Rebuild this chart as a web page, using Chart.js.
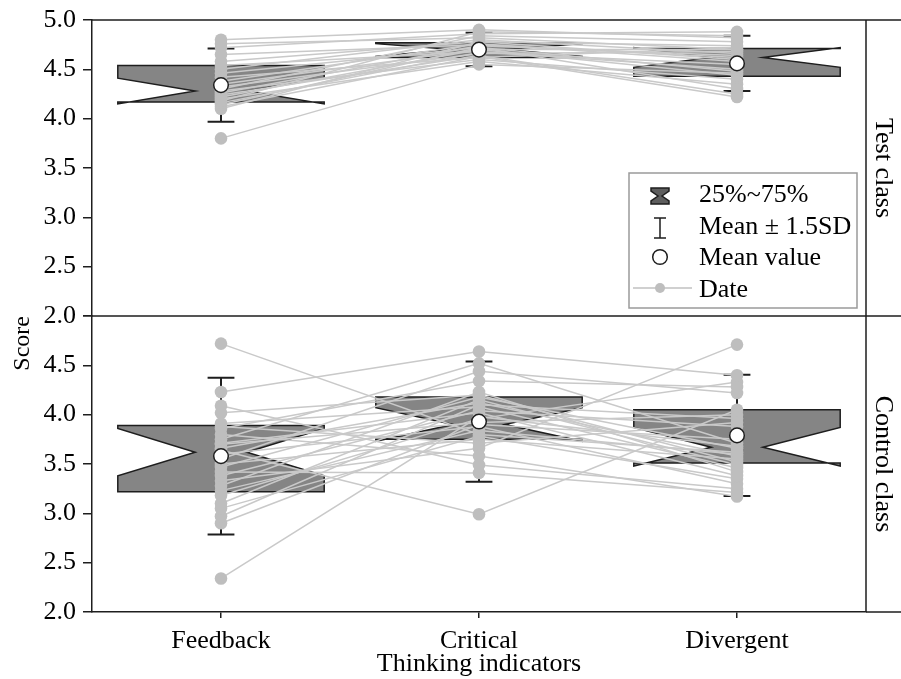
<!DOCTYPE html>
<html>
<head>
<meta charset="utf-8">
<script src="https://cdn.jsdelivr.net/npm/chart.js@4.4.0/dist/chart.umd.min.js"></script>
<style>
  html, body { margin: 0; padding: 0; background: #fff; }
  #wrap { width: 901px; height: 679px; }
</style>
</head>
<body>
<div id="wrap"><canvas id="scoreChart"></canvas></div>
<script>
const categories = ['Feedback', 'Critical', 'Divergent'];
const panelNames = ['Test class', 'Control class'];
const yTicks = [2.0, 2.5, 3.0, 3.5, 4.0, 4.5, 5.0];

// test class, one entry per student
const testFeedback  = [4.80, 4.76, 4.72, 4.65, 4.58, 4.54, 4.50, 4.46, 4.42, 4.38, 4.35, 4.32, 4.30, 4.28, 4.26, 4.24, 4.22, 4.20, 4.18, 4.16, 4.14, 4.12, 4.10, 3.80];
const testCritical  = [4.90, 4.82, 4.86, 4.75, 4.78, 4.68, 4.80, 4.72, 4.62, 4.76, 4.70, 4.66, 4.84, 4.60, 4.74, 4.64, 4.70, 4.58, 4.88, 4.67, 4.72, 4.63, 4.78, 4.55];
const testDivergent = [4.82, 4.70, 4.88, 4.62, 4.74, 4.50, 4.66, 4.30, 4.72, 4.58, 4.44, 4.68, 4.78, 4.40, 4.64, 4.25, 4.70, 4.35, 4.84, 4.55, 4.48, 4.22, 4.60, 4.46];

// control class
const controlFeedback  = [4.72, 4.23, 4.09, 4.02, 3.91, 3.88, 3.86, 3.80, 3.75, 3.71, 3.70, 3.66, 3.64, 3.60, 3.55, 3.50, 3.47, 3.42, 3.38, 3.33, 3.28, 3.23, 3.18, 3.10, 3.05, 2.97, 2.90, 2.34];
const controlCritical  = [3.80, 4.64, 3.49, 4.20, 4.08, 3.71, 4.34, 3.58, 4.52, 4.02, 3.92, 4.12, 2.99, 3.88, 4.44, 3.75, 4.18, 3.41, 4.04, 3.66, 4.23, 3.84, 3.96, 4.15, 3.78, 4.10, 3.90, 3.98];
const controlDivergent = [3.62, 4.40, 3.25, 3.52, 3.46, 3.92, 4.28, 3.17, 3.71, 3.38, 4.00, 3.58, 4.05, 3.30, 4.22, 3.55, 3.66, 3.21, 3.88, 4.71, 3.42, 3.60, 4.33, 3.49, 3.35, 3.96, 3.75, 3.68];

// box statistics (Feedback, Critical, Divergent)
const testQ1       = [4.17, 4.62, 4.43];
const testNotchLo  = [4.15, 4.63, 4.52];
const testMedian   = [4.28, 4.70, 4.62];
const testNotchHi  = [4.41, 4.76, 4.72];
const testQ3       = [4.54, 4.77, 4.71];
const testMean     = [4.34, 4.70, 4.56];
const testSpread   = [0.37, 0.17, 0.28];   // 1.5 SD

const controlQ1      = [3.22, 3.75, 3.51];
const controlNotchLo = [3.38, 3.73, 3.48];
const controlMedian  = [3.62, 3.90, 3.67];
const controlNotchHi = [3.86, 4.07, 3.87];
const controlQ3      = [3.89, 4.18, 4.05];
const controlMean    = [3.58, 3.93, 3.79];
const controlSpread  = [0.795, 0.61, 0.615];

const panels = [
  { axis: 'yTop', q1: testQ1, nlo: testNotchLo, med: testMedian, nhi: testNotchHi, q3: testQ3, mean: testMean, spread: testSpread,
    rows: [testFeedback, testCritical, testDivergent] },
  { axis: 'yBot', q1: controlQ1, nlo: controlNotchLo, med: controlMedian, nhi: controlNotchHi, q3: controlQ3, mean: controlMean, spread: controlSpread,
    rows: [controlFeedback, controlCritical, controlDivergent] }
];

const serif = 'Liberation Serif, Times New Roman, serif';
const ink = '#1e1e1e';

const datasets = [];
panels.forEach(p => {
  datasets.push({
    type: 'scatter',
    yAxisID: p.axis,
    data: p.mean.map((m, i) => ({ x: i + 1, y: m })),
    pointRadius: 7.3,
    pointBackgroundColor: '#ffffff',
    pointBorderColor: ink,
    pointBorderWidth: 1.5,
    order: 0
  });
});
panels.forEach(p => {
  p.rows[0].forEach((v, s) => {
    datasets.push({
      type: 'line',
      yAxisID: p.axis,
      data: p.rows.map((r, i) => ({ x: i + 1, y: r[s] })),
      borderColor: '#c9c9c9',
      borderWidth: 1.5,
      pointRadius: 6.3,
      pointBackgroundColor: '#bebebe',
      pointBorderWidth: 0,
      order: 2
    });
  });
});

const boxPlugin = {
  id: 'notchBoxes',
  beforeDatasetsDraw(chart) {
    const ctx = chart.ctx;
    const x = chart.scales.x;
    panels.forEach(p => {
      const y = chart.scales[p.axis];
      categories.forEach((c, i) => {
        const cx = i + 1;
        const L = x.getPixelForValue(cx - 0.4);
        const R = x.getPixelForValue(cx + 0.4);
        const ind = x.getPixelForValue(cx - 0.1) - L;
        const py = v => y.getPixelForValue(v);
        ctx.save();
        ctx.beginPath();
        ctx.moveTo(L, py(p.q3[i]));
        ctx.lineTo(R, py(p.q3[i]));
        ctx.lineTo(R, py(p.nhi[i]));
        ctx.lineTo(R - ind, py(p.med[i]));
        ctx.lineTo(R, py(p.nlo[i]));
        ctx.lineTo(R, py(p.q1[i]));
        ctx.lineTo(L, py(p.q1[i]));
        ctx.lineTo(L, py(p.nlo[i]));
        ctx.lineTo(L + ind, py(p.med[i]));
        ctx.lineTo(L, py(p.nhi[i]));
        ctx.closePath();
        ctx.fillStyle = '#858585';
        ctx.fill();
        ctx.strokeStyle = ink;
        ctx.lineWidth = 1.5;
        ctx.lineJoin = 'miter';
        ctx.stroke();

        // mean +- 1.5SD bar
        const mx = x.getPixelForValue(cx);
        const cap = x.getPixelForValue(cx + 0.052) - mx;
        const top = py(p.mean[i] + p.spread[i]);
        const bot = py(p.mean[i] - p.spread[i]);
        ctx.beginPath();
        ctx.moveTo(mx, top); ctx.lineTo(mx, bot);
        ctx.moveTo(mx - cap, top); ctx.lineTo(mx + cap, top);
        ctx.moveTo(mx - cap, bot); ctx.lineTo(mx + cap, bot);
        ctx.lineWidth = 2;
        ctx.stroke();
        ctx.restore();
      });
    });
  }
};

const framePlugin = {
  id: 'frameAndLegend',
  afterDraw(chart) {
    const ctx = chart.ctx;
    const a = chart.chartArea;
    const mid = chart.scales.yBot.top;
    const W = chart.width;
    ctx.save();
    ctx.strokeStyle = ink;
    ctx.lineWidth = 1.5;
    ctx.beginPath();
    ctx.moveTo(a.left, a.top); ctx.lineTo(W, a.top);
    ctx.moveTo(a.left, mid); ctx.lineTo(W, mid);
    ctx.moveTo(a.right, a.bottom); ctx.lineTo(W, a.bottom);
    ctx.moveTo(a.right, a.top); ctx.lineTo(a.right, a.bottom);
    ctx.stroke();

    // strip labels
    ctx.fillStyle = '#000';
    ctx.font = '26px ' + serif;
    ctx.textAlign = 'center';
    ctx.textBaseline = 'middle';
    [[a.top, mid], [mid, a.bottom]].forEach((r, k) => {
      ctx.save();
      ctx.translate((a.right + W) / 2 - 1, (r[0] + r[1]) / 2);
      ctx.rotate(Math.PI / 2);
      ctx.fillText(panelNames[k], 0, 0);
      ctx.restore();
    });

    // legend
    const lx = 629, ly = 173, lw = 228, lh = 135;
    ctx.fillStyle = '#fff';
    ctx.fillRect(lx, ly, lw, lh);
    ctx.strokeStyle = '#9a9a9a';
    ctx.lineWidth = 1.5;
    ctx.strokeRect(lx, ly, lw, lh);

    const ix = 660;
    ctx.strokeStyle = ink;
    ctx.lineWidth = 1.5;
    // hourglass
    ctx.beginPath();
    ctx.moveTo(ix - 9, 188); ctx.lineTo(ix + 9, 188); ctx.lineTo(ix + 9, 191);
    ctx.lineTo(ix + 2, 196); ctx.lineTo(ix + 9, 201); ctx.lineTo(ix + 9, 204);
    ctx.lineTo(ix - 9, 204); ctx.lineTo(ix - 9, 201); ctx.lineTo(ix - 2, 196);
    ctx.lineTo(ix - 9, 191); ctx.closePath();
    ctx.fillStyle = '#5e5e5e';
    ctx.fill();
    ctx.stroke();
    // I bar
    ctx.beginPath();
    ctx.moveTo(ix, 218); ctx.lineTo(ix, 238);
    ctx.moveTo(ix - 6, 218); ctx.lineTo(ix + 6, 218);
    ctx.moveTo(ix - 6, 238); ctx.lineTo(ix + 6, 238);
    ctx.stroke();
    // circle
    ctx.beginPath();
    ctx.arc(ix, 257, 7.3, 0, Math.PI * 2);
    ctx.fillStyle = '#fff';
    ctx.fill();
    ctx.stroke();
    // date line
    ctx.strokeStyle = '#c0c0c0';
    ctx.beginPath();
    ctx.moveTo(633, 288); ctx.lineTo(692, 288);
    ctx.stroke();
    ctx.beginPath();
    ctx.arc(ix, 288, 5, 0, Math.PI * 2);
    ctx.fillStyle = '#bebebe';
    ctx.fill();

    ctx.fillStyle = '#000';
    ctx.font = '26px ' + serif;
    ctx.textAlign = 'left';
    ctx.textBaseline = 'middle';
    ctx.fillText('25%~75%', 699, 195);
    ctx.fillText('Mean \u00b1 1.5SD', 699, 227);
    ctx.fillText('Mean value', 699, 258);
    ctx.fillText('Date', 699, 290);
    ctx.restore();
  }
};

function yAxis(hideTop, title) {
  return {
    type: 'linear',
    position: 'left',
    stack: 'panels',
    stackWeight: 1,
    min: 2,
    max: 5,
    afterBuildTicks: axis => { axis.ticks = yTicks.map(v => ({ value: v })); },
    afterFit: axis => { axis.width = 92; },
    ticks: {
      color: '#000',
      autoSkip: false,
      font: { family: serif, size: 26, lineHeight: 1 },
      padding: 7,
      callback: v => (hideTop && v === 5) ? '' : v.toFixed(1)
    },
    grid: { drawOnChartArea: false, drawTicks: true, tickLength: 9, color: ink, lineWidth: 1.5 },
    border: { display: true, color: ink, width: 1.5 },
    title: title ? { display: true, text: title, align: 'end', color: '#000',
      font: { family: serif, size: 24 }, padding: { top: 8, bottom: 0 } } : { display: false }
  };
}

new Chart(document.querySelector('#scoreChart'), {
  data: { datasets: datasets },
  options: {
    responsive: true,
    maintainAspectRatio: false,
    animation: false,
    layout: { padding: { top: 19, right: 35, left: 0, bottom: 0 } },
    plugins: { legend: { display: false }, tooltip: { enabled: false } },
    scales: {
      x: {
        type: 'linear',
        min: 0.5,
        max: 3.5,
        afterBuildTicks: axis => { axis.ticks = categories.map((c, i) => ({ value: i + 1 })); },
        afterFit: axis => { axis.height = 67; },
        ticks: {
          color: '#000',
          font: { family: serif, size: 26 },
          padding: 8,
          maxRotation: 0,
          callback: v => categories[v - 1]
        },
        grid: { drawOnChartArea: false, drawTicks: true, tickLength: 6, color: ink, lineWidth: 1.5 },
        border: { display: true, color: ink, width: 1.5 },
        title: { display: true, text: 'Thinking indicators', color: '#000',
          font: { family: serif, size: 26, lineHeight: 1 }, padding: { top: 0, bottom: 2 } }
      },
      // the stack places the last-listed axis on top
      yBot: yAxis(true, 'Score'),
      yTop: yAxis(false, null)
    }
  },
  plugins: [boxPlugin, framePlugin]
});
</script>
</body>
</html>
